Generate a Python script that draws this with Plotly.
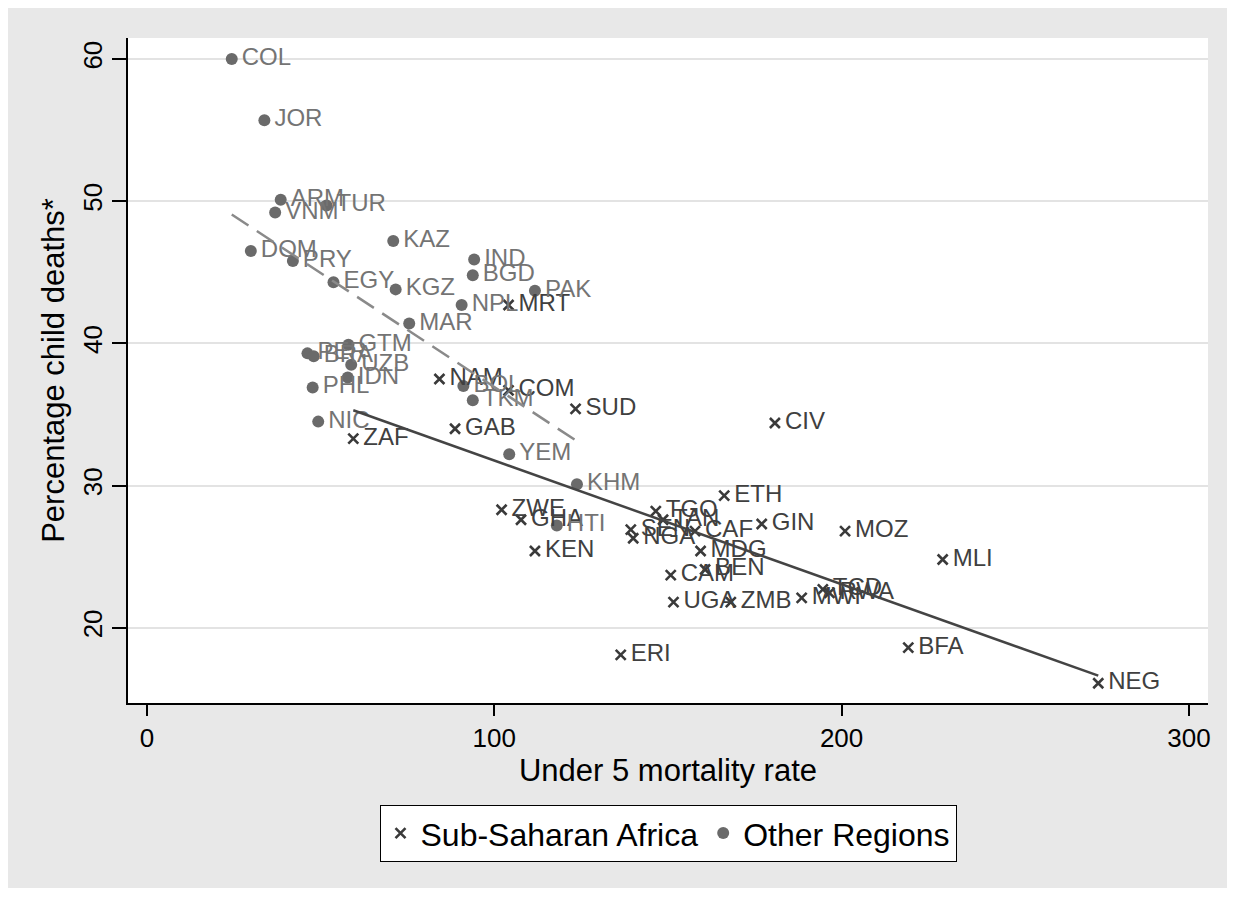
import numpy as np
import plotly.graph_objects as go

# Sub-Saharan Africa
ssa_names = ["ZAF", "NAM", "GAB", "MRT", "COM", "ZWE", "GHA", "KEN", "SUD", "ERI",
             "SEN", "NGA", "TGO", "TAN", "CAM", "UGA", "CAF", "MDG", "BEN", "ETH",
             "ZMB", "GIN", "CIV", "MWI", "TCD", "RWA", "MOZ", "BFA", "MLI", "NEG"]
ssa_u5mr = [59.4, 84.2, 88.7, 104.1, 104.1, 102.1, 107.7, 111.7, 123.4, 136.4,
            139.3, 140.0, 146.5, 148.6, 150.8, 151.6, 157.8, 159.4, 160.7, 166.2,
            168.1, 177.0, 180.8, 188.5, 194.6, 196.5, 201.0, 219.2, 229.1, 273.9]
ssa_pct = [33.3, 37.5, 34.0, 42.7, 36.7, 28.3, 27.6, 25.4, 35.4, 18.1,
           26.9, 26.3, 28.2, 27.6, 23.7, 21.8, 26.8, 25.4, 24.1, 29.3,
           21.8, 27.3, 34.4, 22.1, 22.7, 22.45, 26.8, 18.6, 24.8, 16.1]

# Other regions
oth_names = ["COL", "JOR", "ARM", "VNM", "TUR", "KAZ", "DOM", "PRY", "IND", "BGD",
             "EGY", "KGZ", "NPL", "PAK", "MAR", "GTM", "PER", "BRA", "UZB", "IDN",
             "PHL", "NIC", "BOL", "TKM", "YEM", "KHM", "HTI"]
oth_u5mr = [24.4, 33.8, 38.5, 36.9, 51.7, 70.9, 29.9, 42.0, 94.2, 93.8,
            53.7, 71.6, 90.6, 111.7, 75.5, 58.0, 46.2, 48.0, 58.8, 57.8,
            47.7, 49.3, 91.1, 93.8, 104.3, 123.8, 118.0]
oth_pct = [60.0, 55.7, 50.1, 49.2, 49.7, 47.2, 46.5, 45.8, 45.9, 44.8,
           44.3, 43.8, 42.7, 43.7, 41.4, 39.9, 39.3, 39.1, 38.5, 37.6,
           36.9, 34.5, 37.0, 36.0, 32.2, 30.1, 27.2]

x_ticks = [0, 100, 200, 300]
y_ticks = [20, 30, 40, 50, 60]

FONT = "Liberation Sans, Arial, sans-serif"
SSA_COL = "#3a3a3a"
OTH_COL = "#6a6a6a"
LBL_SSA = "#404040"
LBL_OTH = "#747474"
GAP = "\u2004\u200a"


def lfit(xs, ys):
    xs = np.asarray(xs, float)
    ys = np.asarray(ys, float)
    b, a = np.polyfit(xs, ys, 1)
    xr = np.array([xs.min(), xs.max()])
    return xr, a + b * xr


fig = go.Figure()

# markers (legend entries)
fig.add_trace(go.Scatter(
    x=ssa_u5mr, y=ssa_pct, mode="markers", name="Sub-Saharan Africa",
    marker=dict(symbol="x-thin", size=10, color=SSA_COL,
                line=dict(width=2.6, color=SSA_COL))))
fig.add_trace(go.Scatter(
    x=oth_u5mr, y=oth_pct, mode="markers", name="Other Regions",
    marker=dict(symbol="circle", size=12, color=OTH_COL, line=dict(width=0))))

# labels
fig.add_trace(go.Scatter(
    x=ssa_u5mr, y=ssa_pct, mode="text", text=[GAP + n for n in ssa_names],
    showlegend=False, textposition="middle right",
    textfont=dict(family=FONT, size=24, color=LBL_SSA)))
fig.add_trace(go.Scatter(
    x=oth_u5mr, y=oth_pct, mode="text", text=[GAP + n for n in oth_names],
    showlegend=False, textposition="middle right",
    textfont=dict(family=FONT, size=24, color=LBL_OTH)))

# fitted lines
fx, fy = lfit(ssa_u5mr, ssa_pct)
fig.add_trace(go.Scatter(x=fx, y=fy, mode="lines", showlegend=False,
                         line=dict(color="#444444", width=2.5)))
fx, fy = lfit(oth_u5mr, oth_pct)
fig.add_trace(go.Scatter(x=fx, y=fy, mode="lines", showlegend=False,
                         line=dict(color="#8a8a8a", width=2.5, dash="20px,10px")))

fig.update_layout(
    width=1220, height=880,
    margin=dict(l=120, r=20, t=30, b=185),
    paper_bgcolor="#e8e8e8", plot_bgcolor="white",
    font=dict(family=FONT, color="black"),
    showlegend=True,
    legend=dict(orientation="h", x=0.5, xanchor="center", y=-0.153, yanchor="top",
                bgcolor="white", bordercolor="black", borderwidth=1,
                font=dict(family=FONT, size=32, color="black"),
                itemsizing="trace", traceorder="normal"),
    xaxis=dict(range=[-5.47, 305.5], tickvals=x_ticks, ticktext=[str(v) for v in x_ticks],
               showgrid=False, zeroline=False, showline=True, linecolor="black", linewidth=1.5,
               ticks="outside", ticklen=11, tickwidth=1.5, tickcolor="black",
               tickfont=dict(size=26, color="black"),
               title=dict(text="Under 5 mortality rate", font=dict(size=31, color="black"), standoff=7)),
    yaxis=dict(range=[14.71, 61.48], tickvals=y_ticks, ticktext=[str(v) for v in y_ticks],
               showgrid=True, gridcolor="#e3e3e3", gridwidth=2, zeroline=False,
               showline=True, linecolor="black", linewidth=1.5,
               ticks="outside", ticklen=14, tickwidth=1.5, tickcolor="black",
               tickangle=-90, tickfont=dict(size=26, color="black"),
               title=dict(text="Percentage child deaths*", font=dict(size=31, color="black"), standoff=4)),
)

fig.write_html("out.html")
